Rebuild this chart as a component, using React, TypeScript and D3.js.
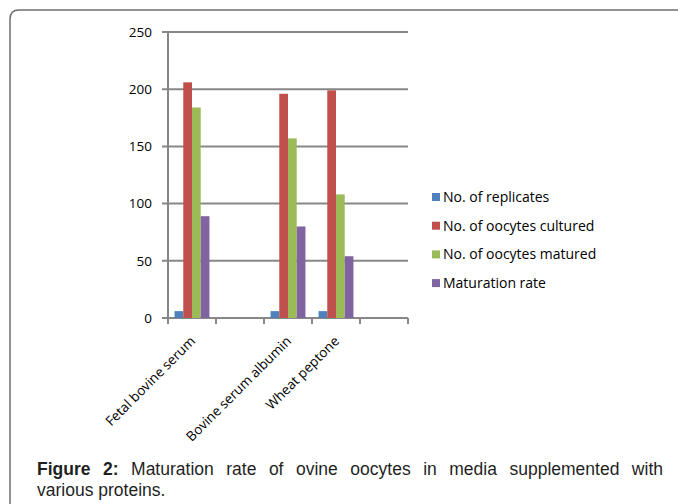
import React, { useLayoutEffect, useRef, useState } from "react";
import * as d3 from "d3";

const categories = ["Fetal bovine serum", "", "Bovine serum albumin", "Wheat peptone", ""];
const seriesNames = [
  "No. of replicates",
  "No. of oocytes cultured",
  "No. of oocytes matured",
  "Maturation rate",
];
const replicates = [6, null, 6, 6, null];
const oocytesCultured = [206, null, 196, 199, null];
const oocytesMatured = [184, null, 157, 108, null];
const maturationRate = [89, null, 80, 54, null];
const yTicks = [0, 50, 100, 150, 200, 250];
const colors = ["#4F81BD", "#C0504D", "#9BBB59", "#8064A2"];

const W = 678;
const H = 504;
const plot = { left: 168, right: 408, top: 32, bottom: 318 };
const gridColor = "#878787";
const labelFont = "'Open Sans', 'Liberation Sans', sans-serif";
const captionFont = "'Liberation Sans', Arial, sans-serif";
const captionLeft = 37;
const captionRight = 663;

export default function App() {
  const series = [replicates, oocytesCultured, oocytesMatured, maturationRate];
  const x = d3
    .scaleBand<number>()
    .domain(categories.map((_, i) => i))
    .range([plot.left, plot.right]);
  const y = d3.scaleLinear().domain([0, 250]).range([plot.bottom, plot.top]);
  // four bars per group, with 75% of a bar width padding each side
  const barW = x.bandwidth() / 5.5;
  const x1 = (s: number) => 0.75 * barW + s * barW;

  // justify the first caption line by spreading its word gaps
  const captionRef = useRef<SVGTextElement>(null);
  const [wordSpacing, setWordSpacing] = useState(0);
  useLayoutEffect(() => {
    const el = captionRef.current;
    if (!el || wordSpacing !== 0) return;
    const natural = el.getComputedTextLength();
    const gaps = 10;
    setWordSpacing((captionRight - captionLeft - natural) / gaps);
  }, [wordSpacing]);

  return (
    <svg
      width={W}
      height={H}
      style={{ position: "absolute", left: 0, top: 0, background: "#fff" }}
    >
      {/* frame */}
      <path
        d={`M10,${H + 2} L10,19 Q10,10 19,10 L${W + 2},10`}
        fill="none"
        stroke="#6e6e6e"
        strokeWidth={1.5}
      />
      {/* gridlines + y ticks */}
      {yTicks.map((t) => (
        <g key={t}>
          <line
            x1={plot.left - 6}
            x2={plot.right}
            y1={y(t)}
            y2={y(t)}
            stroke={gridColor}
            strokeWidth={2}
          />
          <text
            x={152}
            y={y(t)}
            dy="0.35em"
            textAnchor="end"
            fontFamily={labelFont}
            fontSize={13.5}
            fill="#000"
          >
            {t}
          </text>
        </g>
      ))}
      {/* y axis */}
      <line
        x1={plot.left}
        x2={plot.left}
        y1={plot.top}
        y2={plot.bottom + 6}
        stroke={gridColor}
        strokeWidth={2}
      />
      {/* x ticks */}
      {d3.range(categories.length + 1).map((i) => {
        const xx = plot.left + i * x.step();
        return (
          <line
            key={i}
            x1={xx}
            x2={xx}
            y1={plot.bottom}
            y2={plot.bottom + 6}
            stroke={gridColor}
            strokeWidth={2}
          />
        );
      })}
      {/* bars */}
      {series.map((vals, s) =>
        vals.map((v, i) =>
          v == null ? null : (
            <rect
              key={`${s}-${i}`}
              x={(x(i) as number) + x1(s)}
              y={y(v)}
              width={barW}
              height={y(0) - y(v)}
              fill={colors[s]}
            />
          )
        )
      )}
      {/* category labels */}
      {categories.map((c, i) =>
        c ? (
          <text
            key={i}
            transform={`translate(${(x(i) as number) + x.bandwidth() / 2 + 4},${
              plot.bottom + 24
            }) rotate(-45)`}
            textAnchor="end"
            fontFamily={labelFont}
            fontSize={13.5}
            fill="#000"
          >
            {c}
          </text>
        ) : null
      )}
      {/* legend */}
      {seriesNames.map((n, s) => (
        <g key={n} transform={`translate(432,${197 + s * 28.7})`}>
          <rect x={0} y={-4} width={8} height={8} fill={colors[s]} />
          <text
            x={11}
            y={0}
            dy="0.35em"
            fontFamily={labelFont}
            fontSize={14}
            fill="#000"
          >
            {n}
          </text>
        </g>
      ))}
      {/* caption */}
      <text
        ref={captionRef}
        x={captionLeft}
        y={475}
        fontFamily={captionFont}
        fontSize={17.5}
        fill="#1f1f1f"
        wordSpacing={wordSpacing}
      >
        <tspan fontWeight="bold">Figure 2:</tspan>
        <tspan> Maturation rate of ovine oocytes in media supplemented with</tspan>
      </text>
      <text
        x={captionLeft}
        y={496}
        fontFamily={captionFont}
        fontSize={17.5}
        fill="#1f1f1f"
      >
        various proteins.
      </text>
    </svg>
  );
}
